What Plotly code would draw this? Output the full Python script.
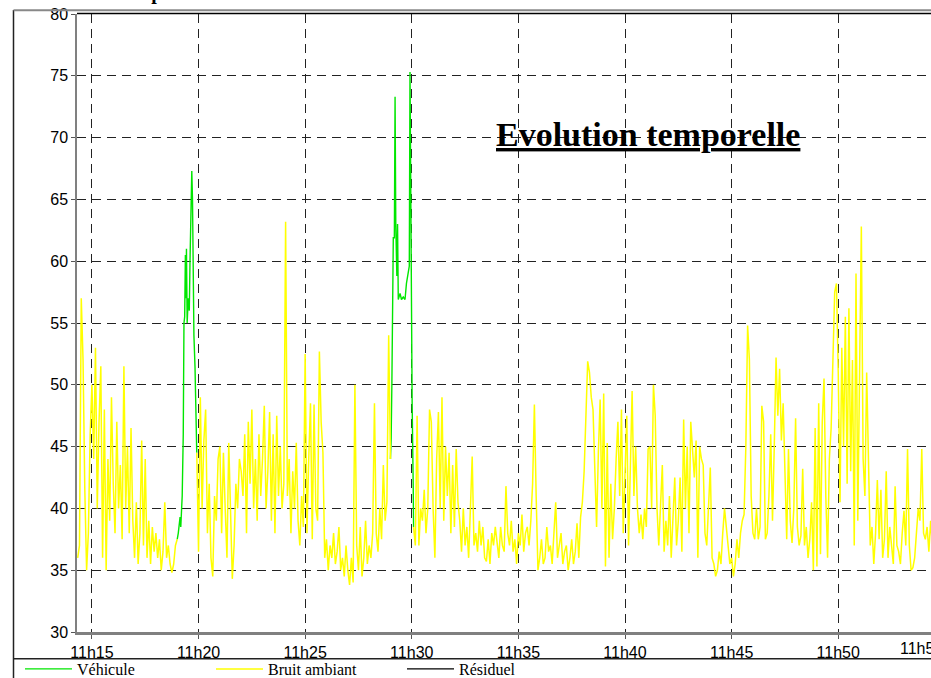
import plotly.graph_objects as go
import pandas as pd

DAY = "2024-01-01 "

# Bruit ambiant (dB(A)), one reading every 5 s starting at 11:14:00
bruit_start = "11:14:00"
bruit_step = "5s"
bruit_ambiant = [
    None, None, None, None, 36, 37, 57, 52, 41.5, 35, 38, 46,            # 11:14
    50, 44, 53, 40, 47, 51.5, 36, 48, 35, 44, 39, 49,                    # 11:15
    42, 38, 47, 40, 43.5, 37.5, 51.5, 40, 45, 38, 46.5, 39,              # 11:16
    36, 40.5, 35.5, 38, 45.5, 37, 44, 36, 39, 35.5, 38.5, 36.5,          # 11:17
    38, 36, 37.5, 35, 36.5, 40.5, 36, 37, 35.5, 34.8, 35.5, 37,          # 11:18
    37.5, None, None, None, None, None, None, None, None, None, None, 44.5,  # 11:19
    36.5, 49, 40, 45.5, 48, 38, 42, 36, 34.5, 41, 39, 44,                # 11:20
    45, 38, 44.5, 40, 36, 45.3, 39, 34.3, 37, 42, 40, 44,                # 11:21
    43, 41, 46, 38, 47, 42, 48, 40, 44, 39, 46, 41,                      # 11:22
    44, 48.3, 40, 43, 47.8, 39, 46, 38, 47.5, 41, 45, 40,                # 11:23
    42, 63.2, 41, 44, 38, 43, 40, 45.3, 39, 37, 41, 38.5,                # 11:24
    52.5, 38, 44, 48.5, 37.5, 48.4, 40, 39, 52.7, 47, 44.5, 36,          # 11:25
    37.5, 35, 37, 36, 38, 35.5, 36.5, 38.5, 35, 36, 34.5, 37,            # 11:26
    35, 33.8, 36, 34, 50, 37, 35, 38.5, 34.5, 36, 39, 35.5,              # 11:27
    37, 36, 38, 48.5, 38, 36.5, 40, 37.5, 43.5, 39, 40.5, 54,            # 11:28
    44, None, None, None, None, None, None, None, None, None, None, None,  # 11:29
    None, 38.5, 37, 47.5, 37, 40, 39, 41.5, 38, 40, 48, 47,              # 11:30
    40, 36, 44, 47.8, 40, 49, 39, 45, 41, 44.5, 38, 43.5,                # 11:31
    38.5, 44.8, 40.5, 39, 36.5, 40, 37, 38.5, 36, 40, 44.2, 37,          # 11:32
    38, 36.5, 39, 37, 38.5, 36, 35.7, 37.5, 35.5, 38, 37, 38.5,          # 11:33
    37, 36, 38.5, 37, 36.5, 41.8, 38, 37, 39, 36.5, 37.5, 35.5,          # 11:34
    38, 37, 39.5, 36.5, 38, 38.5, 37, 39, 42, 48.4, 41, 35,              # 11:35
    36, 37.5, 35.5, 36, 38.5, 36.5, 37, 35.5, 38, 40.5, 36, 37,          # 11:36
    38, 35.5, 36.5, 37, 35, 36, 37.5, 35.5, 36.5, 38.8, 36, 39.3,        # 11:37
    40.5, 43, 48, 51.9, 51, 49, 48, 42, 38.5, 44.5, 48.8, 40,            # 11:38
    49.3, 35.3, 45.3, 36, 42, 37.5, 40, 44, 47, 41, 48, 38,              # 11:39
    43, 47.5, 37, 43, 49.5, 41, 45, 40, 38, 39.5, 37.5, 40,              # 11:40
    38.5, 44.8, 45, 40, 50, 47.5, 40, 37, 41, 43.5, 36.5, 39,            # 11:41
    37, 41, 36, 40, 42.5, 37, 39, 42.5, 36.5, 47.2, 40, 45,              # 11:42
    38, 47, 44.5, 42.5, 45.5, 36, 45, 44, 43.5, 38, 37, 41,              # 11:43
    43.3, 36, 35.5, 34.5, 35, 36.5, 35.5, 38, 40, 38.5, 37, 35.5,        # 11:44
    36, 34.5, 35.5, 37.5, 36, 38, 39, 39.5, 45, 54.8, 52, 41,            # 11:45
    38, 37.5, 40, 37.5, 38.5, 48.3, 47, 37.5, 38, 41, 46, 39,            # 11:46
    45, 52.2, 47.5, 51.3, 45.5, 48.5, 43, 37.5, 44.8, 39, 37.2, 40,      # 11:47
    47.3, 38.5, 37, 37.8, 43.2, 37, 38.5, 36, 37.5, 40.5, 35, 46.5,      # 11:48
    35.3, 48.5, 36.3, 47, 50.5, 41, 36, 44, 46.5, 52, 57.5, 58.2,        # 11:49
    51, 40.5, 53, 45, 55.5, 42, 56.2, 43, 52, 37, 59, 39,                # 11:50
    50, 62.8, 44, 41, 51, 43.5, 37, 38.5, 35.5, 38, 42.3, 37.5,          # 11:51
    41.5, 36, 37.5, 43, 36, 38.5, 37, 35.5, 41.8, 37, 36.5, 35.5,        # 11:52
    38, 39.8, 37, 44.8, 37, 35, 35.2, 36, 38, 40, 39, 44.8,              # 11:53
    38, 37.5, 38.5, 36.5, 39, 37,                                        # 11:54
]

# Véhicule passages (dB(A))
vehicule_times = [
    "11:19:00", "11:19:03", "11:19:08", "11:19:10", "11:19:14", "11:19:17",
    "11:19:19", "11:19:21", "11:19:23", "11:19:25", "11:19:26", "11:19:28",
    "11:19:31", "11:19:34", "11:19:36", "11:19:38", "11:19:41", "11:19:43",
    "11:19:45", "11:19:47", "11:19:50", "11:19:53", "11:19:55",
    None,
    "11:29:00", "11:29:02", "11:29:04", "11:29:06", "11:29:08", "11:29:11",
    "11:29:13", "11:29:15", "11:29:18", "11:29:20", "11:29:22", "11:29:27",
    "11:29:31", "11:29:36", "11:29:41", "11:29:45", "11:29:50", "11:29:53",
    "11:29:55", "11:29:57", "11:29:59", "11:30:01", "11:30:04", "11:30:05",
]
vehicule_db = [
    37.5, 38, 39.3, 38.5, 41, 46,
    55, 55.5, 60.5, 57, 61, 55,
    57, 56, 60, 64, 67.3, 65,
    56, 54, 51.5, 46.5, 44.5,
    None,
    44, 45.7, 50, 55.7, 61.9, 61.9,
    73.3, 63, 58.8, 63, 56.9, 57.4,
    56.9, 57.1, 56.9, 58.2, 59.1, 59.6,
    75.3, 65.2, 54.1, 48.6, 41.9, 38.5,
]

# Résiduel: no visible data in the window
residuel_times = [None]
residuel_db = [None]

y_range = [30, 80]
x_range = ["11:14:18", "11:54:21"]
tick_start = "11:15:00"
chart_title = "Evolution temporelle"
top_title = "Illustration de la présence du véhicule dans le secteur d'étude"
cut_tick_label = "11h55"

# ---- geometry helpers (pixel -> paper) ----
L, R, T, B = 77, 0, 14, 46
W, H = 931, 678
PW, PH = W - L - R, H - T - B


def px(x):
    return (x - L) / PW


def py(y):
    return (H - B - y) / PH


bruit_times = pd.date_range(DAY + bruit_start, periods=len(bruit_ambiant), freq=bruit_step)
veh_x = [DAY + t if t else None for t in vehicule_times]

fig = go.Figure()
fig.add_trace(go.Scatter(
    x=veh_x, y=vehicule_db, mode="lines", name="Véhicule",
    line=dict(color="#00E600", width=1.4), connectgaps=False,
))
fig.add_trace(go.Scatter(
    x=bruit_times, y=bruit_ambiant, mode="lines", name="Bruit ambiant",
    line=dict(color="#FFFF00", width=1.5), connectgaps=False,
))
fig.add_trace(go.Scatter(
    x=residuel_times, y=residuel_db, mode="lines", name="Résiduel",
    line=dict(color="#000000", width=1.4),
))

tick_font = dict(family="Liberation Sans, Arial, sans-serif", size=16, color="#000")

fig.update_layout(
    width=W, height=H,
    margin=dict(l=L, r=R, t=T, b=B, pad=0, autoexpand=False),
    paper_bgcolor="white", plot_bgcolor="white",
    showlegend=True,
    legend=dict(
        orientation="h", x=px(20), xanchor="left", y=py(669), yanchor="middle",
        font=dict(family="Liberation Serif, Times New Roman, serif", size=16, color="#000"),
        itemwidth=47, entrywidth=129, entrywidthmode="pixels",
        bgcolor="rgba(0,0,0,0)", borderwidth=0, traceorder="normal",
    ),
    xaxis=dict(
        type="date", range=[DAY + x_range[0], DAY + x_range[1]],
        tick0=DAY + tick_start, dtick=300000, tickformat="%Hh%M",
        tickfont=tick_font, ticks="outside", ticklen=4, tickcolor="#555",
        showline=True, linecolor="#808080", linewidth=2.5,
        showgrid=True, gridcolor="#222", gridwidth=1, griddash="9px,6px",
        zeroline=False, fixedrange=True, automargin=False,
    ),
    yaxis=dict(
        range=y_range, dtick=5, tick0=30,
        tickfont=tick_font, ticks="outside", ticklen=4, tickcolor="#555",
        showline=True, linecolor="#808080", linewidth=1.5,
        showgrid=True, gridcolor="#222", gridwidth=1, griddash="9px,6px",
        zeroline=False, fixedrange=True, automargin=False,
    ),
)

# frame lines
line_dark = dict(color="#222", width=1.5)
fig.add_shape(type="line", xref="paper", yref="paper", x0=px(13.5), x1=px(13.5), y0=py(10), y1=py(680), line=line_dark)
fig.add_shape(type="line", xref="paper", yref="paper", x0=px(13.5), x1=px(935), y0=py(10.3), y1=py(10.3), line=dict(color="#888", width=2))
fig.add_shape(type="line", xref="paper", yref="paper", x0=px(77), x1=px(935), y0=py(13.5), y1=py(13.5), line=dict(color="#000", width=1.5))
fig.add_shape(type="line", xref="paper", yref="paper", x0=px(13.5), x1=px(935), y0=py(658.7), y1=py(658.7), line=line_dark)

fig.add_annotation(
    text="<b><u>" + chart_title + "</u></b>", xref="paper", yref="paper",
    x=px(648), y=py(134), xanchor="center", yanchor="middle", showarrow=False,
    font=dict(family="Liberation Serif, Times New Roman, serif", size=34, color="#000"),
)
fig.add_annotation(
    text="<b>" + top_title + "</b>", xref="paper", yref="paper",
    x=px(2), y=py(-8), xanchor="left", yanchor="middle", showarrow=False,
    font=dict(family="Liberation Serif, Times New Roman, serif", size=20, color="#000"),
)
fig.add_annotation(
    text=cut_tick_label, xref="paper", yref="paper",
    x=px(898), y=py(648.7), xanchor="left", yanchor="middle", showarrow=False,
    font=tick_font,
)

fig.write_html(
    "out.html",
    config={"displayModeBar": False},
    post_script="document.body.style.margin='0';document.body.style.overflow='hidden';",
)
